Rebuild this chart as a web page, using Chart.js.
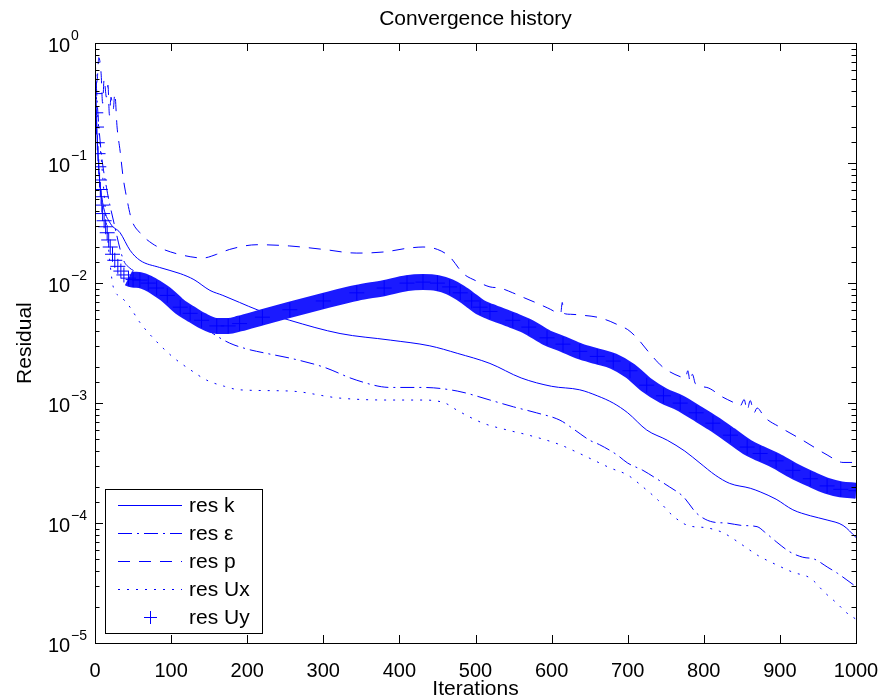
<!DOCTYPE html>
<html>
<head>
<meta charset="utf-8">
<script src="https://cdn.jsdelivr.net/npm/chart.js@4/dist/chart.umd.min.js"></script>
<style>
html,body{margin:0;padding:0;background:#fff;}
#wrap{width:883px;height:700px;position:relative;}
</style>
</head>
<body>
<div id="wrap"><canvas id="c"></canvas></div>
<script>
// residual histories (iteration -> residual)
const iterK = [0,2,5,10,20,33,46,59,85,112,130,151,168,190,213,256,322,388,440,476,519,560,600,637,660,681,700,725,752,775,795,815,834,861,874,895,917,940,962,983,1000];
const resK  = [0.89,0.25,0.089,0.047,0.0316,0.0263,0.0188,0.0155,0.0135,0.0120,0.0107,0.0087,0.0079,0.0069,0.0060,0.0049,0.0038,0.00335,0.0030,0.0026,0.00214,0.00162,0.00138,0.00129,0.00115,0.0010,0.00083,0.000596,0.00049,0.000398,0.000316,0.000251,0.000214,0.000195,0.000182,0.000158,0.000129,0.000115,0.000106,0.0000955,0.0000759];

const iterEps = [0,3,8,15,25,37,46,55,80,100,130,155,177,200,221,260,300,344,388,431,476,519,550,580,611,630,650,663,686,700,720,738,755,773,791,812,830,850,870,880,896,913,930,945,963,976,987,1000];
const resEps  = [0.79,0.316,0.126,0.063,0.0316,0.0158,0.0133,0.0123,0.0089,0.0071,0.0050,0.0038,0.00316,0.00282,0.00263,0.00234,0.0020,0.00155,0.00135,0.00135,0.00126,0.00106,0.00093,0.00083,0.00072,0.0006,0.00049,0.00045,0.00037,0.000316,0.000275,0.000234,0.0002,0.000166,0.00012,0.000102,0.0001,0.0000955,0.0000933,0.0000841,0.0000692,0.0000575,0.0000519,0.0000501,0.0000427,0.000038,0.0000339,0.0000295];

const iterP = [1,3,5,8,10,12,15,17,19,21,24,26,29,33,37,42,48,59,75,90,125,142,160,177,213,256,300,344,380,410,431,450,466,484,500,519,532,549,565,581,595,612,614,616,625,640,660,677,690,700,712,729,746,769,776,779,782,785,789,804,825,838,848,853,857,861,866,870,880,900,930,962,983,1000];
const resP  = [0.447,0.501,0.759,0.562,0.316,0.501,0.355,0.447,0.251,0.355,0.282,0.380,0.200,0.126,0.0759,0.0501,0.0339,0.0263,0.0214,0.0191,0.0166,0.0162,0.0174,0.0191,0.0209,0.0204,0.0191,0.0178,0.0182,0.0195,0.0200,0.0191,0.0166,0.0120,0.0105,0.0093,0.0091,0.0083,0.0075,0.0068,0.0062,0.0056,0.0069,0.0056,0.0055,0.0054,0.0052,0.0048,0.0044,0.0041,0.0035,0.0026,0.0020,0.00166,0.00162,0.00186,0.00151,0.00174,0.00145,0.00135,0.00112,0.00102,0.00095,0.00107,0.00087,0.00105,0.00083,0.00091,0.00076,0.00063,0.00049,0.00037,0.00032,0.00032];

const iterUx = [0,3,6,10,15,20,24,35,46,59,80,103,125,147,170,190,256,322,388,431,460,476,510,540,570,611,633,655,677,700,720,740,758,779,804,825,850,871,896,917,940,959,975,988,1000];
const resUx  = [0.501,0.282,0.158,0.0794,0.0316,0.0141,0.0093,0.0076,0.0063,0.0047,0.0033,0.0024,0.0019,0.00155,0.00138,0.00129,0.00126,0.0011,0.00106,0.00106,0.0010,0.00087,0.00068,0.0006,0.00054,0.00045,0.00039,0.000335,0.000288,0.000251,0.0002,0.000155,0.000117,0.0000955,0.0000912,0.0000832,0.0000661,0.0000537,0.0000447,0.0000389,0.0000347,0.0000263,0.0000214,0.0000178,0.0000158];

const iterUy = [0,1,2,3,4,5,6,7,8,9,10,12,14,16,18,20,23,26,30,34,38,44,50,59,70,81,95,112,125,140,160,175,190,220,256,300,344,380,410,431,450,466,480,495,506,519,549,570,594,615,637,660,681,703,725,747,769,790,812,835,857,874,895,917,940,962,980,1000];
const resUy  = [0.380,0.263,0.200,0.148,0.120,0.0933,0.0724,0.0603,0.0525,0.0447,0.0380,0.0331,0.0295,0.0263,0.0229,0.0200,0.0174,0.0155,0.0138,0.0126,0.0117,0.0110,0.0107,0.0106,0.0100,0.0091,0.0079,0.0063,0.0056,0.0049,0.0044,0.0044,0.0046,0.0052,0.0060,0.0071,0.0083,0.0091,0.0100,0.0102,0.0100,0.0093,0.0083,0.0071,0.0063,0.0058,0.0049,0.0043,0.0035,0.0031,0.0027,0.00245,0.00224,0.00186,0.00141,0.00115,0.0010,0.00083,0.00068,0.00054,0.00043,0.00038,0.00033,0.000275,0.000234,0.000204,0.000191,0.000186];

const seriesNames = ['res k', 'res \u03b5', 'res p', 'res Ux', 'res Uy'];

const FONT = '"Liberation Sans", Arial, sans-serif';
const BLUE = '#0000ff';
const pts = (xs, ys) => xs.map((x, i) => ({x, y: ys[i]}));
const isDecade = v => Math.abs(Math.log10(v) - Math.round(Math.log10(v))) < 1e-6;

const lineSet = (label, xs, ys, dash) => ({
  label, data: pts(xs, ys), borderColor: BLUE, borderWidth: 1, borderDash: dash,
  pointRadius: 0, cubicInterpolationMode: 'monotone', order: 1
});

// box, inward ticks, 10^n labels and the boxed legend, matlab style
const matlabAxes = {
  id: 'matlabAxes',
  afterDatasetsDraw(chart) {
    const {ctx, chartArea: a, scales: {x, y}} = chart;
    ctx.save();
    ctx.strokeStyle = '#000'; ctx.lineWidth = 1;
    const L = Math.round(a.left), T = Math.round(a.top), R = Math.round(a.right), B = Math.round(a.bottom);
    ctx.strokeRect(L + 0.5, T + 0.5, R - L, B - T);
    ctx.beginPath();
    x.ticks.forEach(t => {
      const px = Math.round(x.getPixelForValue(t.value)) + 0.5;
      ctx.moveTo(px, B); ctx.lineTo(px, B - 8);
      ctx.moveTo(px, T); ctx.lineTo(px, T + 8);
    });
    y.ticks.forEach(t => {
      const py = Math.round(y.getPixelForValue(t.value)) + 0.5;
      const len = isDecade(t.value) ? 8 : 4.5;
      ctx.moveTo(L, py); ctx.lineTo(L + len, py);
      ctx.moveTo(R, py); ctx.lineTo(R - len, py);
    });
    ctx.stroke();

    ctx.fillStyle = '#000'; ctx.textAlign = 'left'; ctx.textBaseline = 'alphabetic';
    y.ticks.filter(t => isDecade(t.value)).forEach(t => {
      const e = Math.round(Math.log10(t.value));
      const py = y.getPixelForValue(t.value);
      ctx.font = '20px ' + FONT; ctx.fillText('10', 48, py + 9);
      ctx.font = '14px ' + FONT; ctx.fillText(e === 0 ? '0' : '\u2212' + Math.abs(e), 71, py - 3);
    });

    // legend
    const lx = 105, ly = 489, lw = 157, lh = 144;
    ctx.fillStyle = '#fff'; ctx.fillRect(lx, ly, lw, lh);
    ctx.strokeStyle = '#000'; ctx.strokeRect(lx + 0.5, ly + 0.5, lw, lh);
    chart.data.datasets.forEach((ds, i) => {
      const cy = ly + 16 + i * 28;
      ctx.strokeStyle = BLUE; ctx.lineWidth = 1;
      ctx.beginPath();
      if (ds.pointStyle === 'cross') {
        ctx.moveTo(144, cy + 0.5); ctx.lineTo(157, cy + 0.5);
        ctx.moveTo(150.5, cy - 6); ctx.lineTo(150.5, cy + 7);
      } else {
        ctx.setLineDash(ds.borderDash || []);
        ctx.moveTo(118, cy + 0.5); ctx.lineTo(182, cy + 0.5);
      }
      ctx.stroke();
      ctx.setLineDash([]);
      ctx.fillStyle = '#000'; ctx.font = '21px ' + FONT; ctx.textBaseline = 'middle';
      ctx.fillText(ds.label, 189, cy + 1);
    });
    ctx.restore();
  }
};

new Chart(document.getElementById('c'), {
  type: 'line',
  data: {
    datasets: [
      lineSet(seriesNames[0], iterK, resK, []),
      lineSet(seriesNames[1], iterEps, resEps, [14, 5, 2, 5]),
      lineSet(seriesNames[2], iterP, resP, [12, 9]),
      lineSet(seriesNames[3], iterUx, resUx, [2, 7]),
      {
        label: seriesNames[4], data: pts(iterUy, resUy), order: 0,
        borderColor: '#1a1aff', borderWidth: 16, cubicInterpolationMode: 'monotone',
        segment: {borderColor: c => c.p0.parsed.x < 44 ? 'rgba(0,0,0,0)' : undefined},
        pointStyle: 'cross', pointRadius: 7.5, pointBorderWidth: 1, pointBorderColor: BLUE
      }
    ]
  },
  options: {
    responsive: true, maintainAspectRatio: false, animation: false,
    layout: {padding: {left: 0, right: 27, top: 0, bottom: 0}},
    plugins: {
      legend: {display: false}, tooltip: {enabled: false},
      title: {display: true, text: 'Convergence history', color: '#000', fullSize: false,
        font: {family: FONT, size: 21, weight: 'normal'}, padding: {top: 7, bottom: 11}}
    },
    scales: {
      x: {
        type: 'linear', min: 0, max: 1000,
        afterFit: s => { s.height = 57; s.paddingLeft = 0; s.paddingRight = 0; },
        grid: {display: false}, border: {display: false},
        ticks: {stepSize: 100, autoSkip: false, maxRotation: 0, padding: 8, color: '#000',
          font: {family: FONT, size: 20}, callback: v => String(v)},
        title: {display: true, text: 'Iterations', color: '#000', padding: {top: 0, bottom: 0}, font: {family: FONT, size: 21, lineHeight: 1}}
      },
      y: {
        type: 'logarithmic', min: 1e-5, max: 1,
        afterFit: s => { s.width = 95; },
        grid: {display: false}, border: {display: false},
        ticks: {display: false},
        title: {display: true, text: 'Residual', color: '#000', padding: {top: 14.5, bottom: 0}, font: {family: FONT, size: 21, lineHeight: 1}}
      }
    }
  },
  plugins: [matlabAxes]
});
</script>
</body>
</html>
